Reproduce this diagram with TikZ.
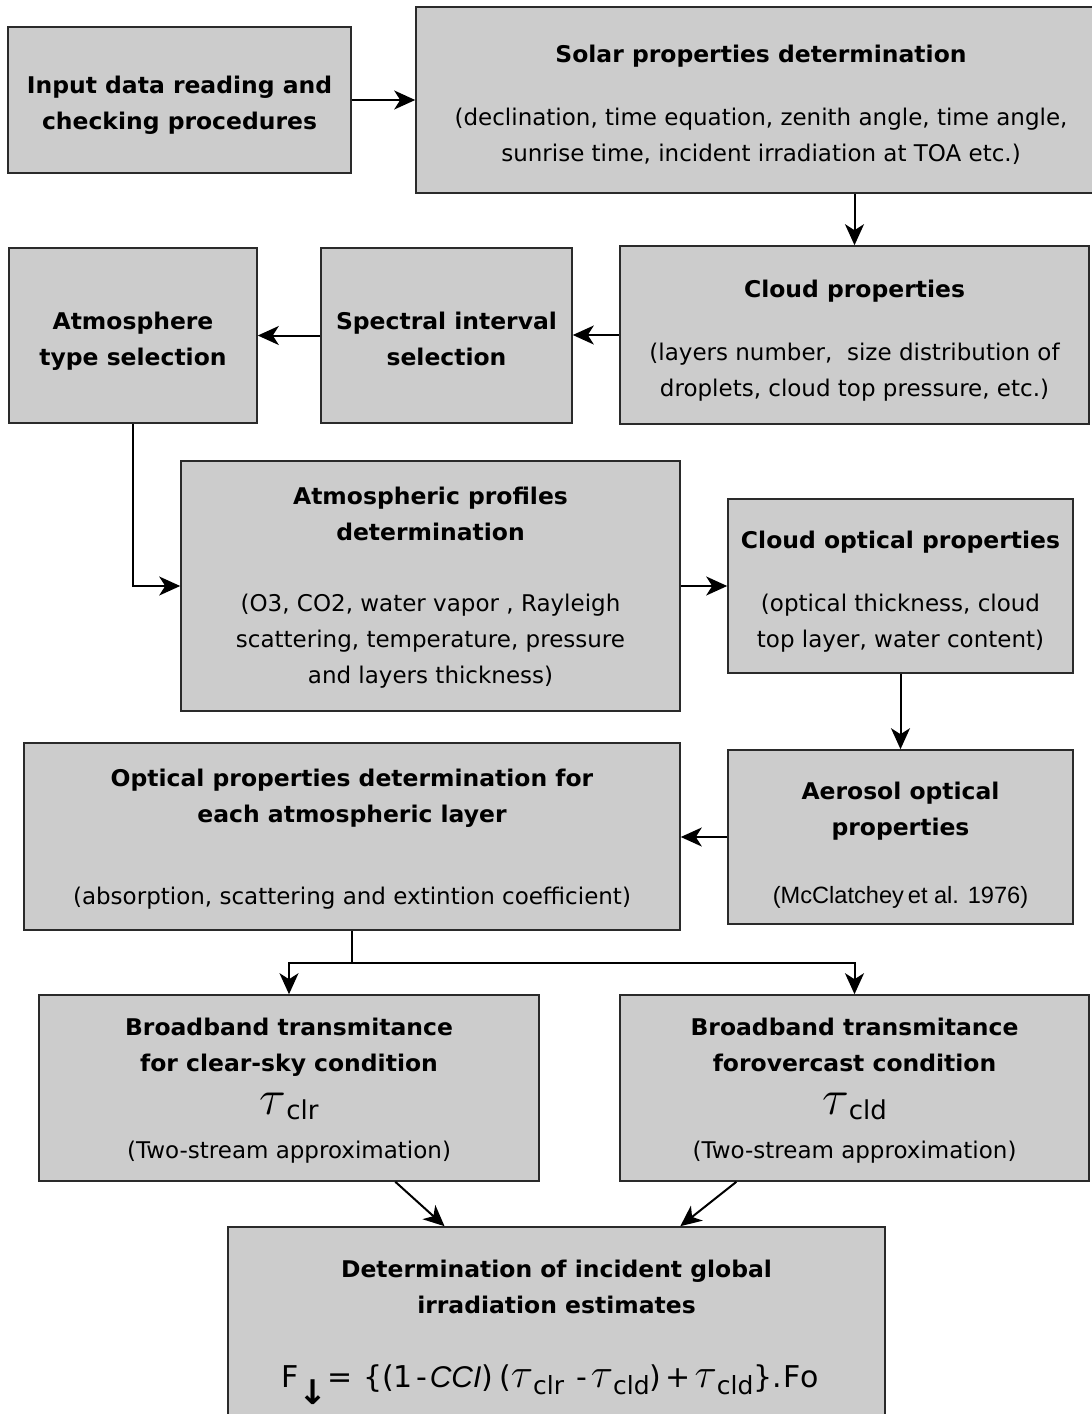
\documentclass[tikz,border=0pt]{standalone}
\usepackage{fontspec}
\setmainfont{DejaVu Sans}[BoldFeatures={FakeStretch=1.02}]
\newfontfamily\arialfont{Liberation Sans}
\usepackage{tikz}
\usetikzlibrary{arrows.meta,positioning,calc}
\definecolor{boxfill}{HTML}{CCCCCC}
\definecolor{boxline}{HTML}{2A2A2A}
\newcommand{\tstrut}[1][14pt]{\rule{0pt}{#1}}
\newcommand{\taubig}[1]{{\fontsize{25}{25}\selectfont$\tau$}\raisebox{-2.5pt}{\fontsize{13}{13}\selectfont #1}}
\newcommand{\taueq}[1]{{\fontsize{22}{22}\selectfont$\tau$}\raisebox{-3.5pt}{\fontsize{12.5}{12.5}\selectfont #1}}

\begin{document}
\begin{tikzpicture}[x=0.5pt,y=-0.5pt,
  font=\fontsize{11.5}{18}\selectfont,
  box/.style={draw=boxline,fill=boxfill,line width=0.8pt,align=center,inner sep=0pt},
  arr/.style={-{Stealth[length=10.5pt,width=9.5pt,inset=3pt]},line width=1pt}]
\clip (0,0) rectangle (1092,1414);
% first row
\node[box,minimum width=171.5pt,minimum height=73pt] (inp) at (179.5,100)
  {\tstrut\textbf{Input data reading and}\\\textbf{checking procedures}};
\node[box,minimum width=345pt,minimum height=93pt] (solar) at (761,100)
  {\tstrut\textbf{Solar properties determination}\\[13.5pt]
   (declination, time equation, zenith angle, time angle,\\
   sunrise time, incident irradiation at TOA etc.)};
% second row
\node[box,minimum width=234.5pt,minimum height=89pt] (cloud) at (854.5,335)
  {\tstrut[14.7pt]\textbf{Cloud properties}\\[13.5pt]
   (layers number,\ \ size distribution of\\droplets, cloud top pressure, etc.)};
\node[box,minimum width=125.5pt,minimum height=87.5pt] (spec) at (446.5,335.5)
  {\tstrut[12pt]\textbf{Spectral interval}\\\textbf{selection}};
\node[box,minimum width=124pt,minimum height=87.5pt] (atm) at (133,335.5)
  {\tstrut[14.5pt]\textbf{Atmosphere}\\\textbf{type selection}};
% third row
\node[box,minimum width=249.5pt,minimum height=125pt] (prof) at (430.5,586)
  {\tstrut[10.7pt]\textbf{Atmospheric profiles}\\\textbf{determination}\\[17.5pt]
   (O3, CO2, water vapor , Rayleigh\\scattering, temperature, pressure\\and layers thickness)};
\node[box,minimum width=172.5pt,minimum height=87pt] (cop) at (900.5,586)
  {\tstrut[14.7pt]\textbf{Cloud optical properties}\\[13.5pt]
   (optical thickness, cloud\\top layer, water content)};
% fourth row
\node[box,minimum width=172.5pt,minimum height=87pt] (aer) at (900.5,837)
  {\tstrut[17pt]\textbf{Aerosol optical}\\\textbf{properties}\\[16pt]
   {\arialfont\fontsize{11.8}{11.8}\selectfont (McClatchey\,et al. 1976)}};
\node[box,minimum width=328pt,minimum height=93.5pt] (opt) at (352,836.5)
  {\tstrut[11.7pt]\textbf{Optical properties determination for}\\\textbf{each atmospheric layer}\\[23pt]
   (absorption, scattering and extintion coefficient)};
% fifth row
\node[box,minimum width=250pt,minimum height=93pt] (clr) at (289,1088)
  {\tstrut[11.7pt]\textbf{Broadband transmitance}\\\textbf{for clear-sky condition}\\[3.5pt]
   \taubig{clr}\\[4pt]
   (Two-stream approximation)};
\node[box,minimum width=234.5pt,minimum height=93pt] (ovc) at (854.5,1088)
  {\tstrut[11.7pt]\textbf{Broadband transmitance}\\\textbf{forovercast condition}\\[3.5pt]
   \taubig{cld}\\[4pt]
   (Two-stream approximation)};
% last row
\node[box,minimum width=328.5pt,minimum height=106.5pt] (det) at (556.5,1333.5) {};
\node[align=center,anchor=north] (dettitle) at ($(det.north)+(0,27)$)
  {\textbf{Determination of incident global}\\\textbf{irradiation estimates}};
\node[anchor=base west,inner sep=0pt] (formula) at ($(det.north west)+(54,161)$)
  {\fontsize{15}{15}\selectfont F\raisebox{-8.5pt}{\fontsize{17}{17}\selectfont\bfseries ↓}=\hspace{5pt}%
   \{(1\hspace{2pt}-\hspace{1pt}{\arialfont\itshape CCI})\hspace{3pt}(\taueq{clr}\hspace{6pt}-\hspace{2pt}\taueq{cld})\hspace{2pt}+\hspace{2pt}\taueq{cld}\}.\hspace{1pt}Fo};
% connectors
\draw[arr] (inp) -- (inp -| solar.west);
\draw[arr] (cloud.north |- solar.south) -- (cloud.north);
\draw[arr] (cloud.west) -- (cloud.west -| spec.east);
\draw[arr] (spec.west) -- (spec.west -| atm.east);
\draw[arr] (atm.south) |- (prof.west);
\draw[arr] (prof.east) -- (cop.west);
\draw[arr] (cop.south) -- (aer.north);
\draw[arr] (aer.west) -- (aer.west -| opt.east);
\coordinate (split) at ($(opt.south)+(0,32)$);
\draw[line width=1pt] (opt.south) -- (split);
\draw[arr] (split) -| (clr.north);
\draw[arr] (split) -| (ovc.north);
\draw[arr] ($(clr.south west)!0.712!(clr.south east)$) -- ($(det.north west)!0.33!(det.north east)$);
\draw[arr] ($(ovc.south west)!0.249!(ovc.south east)$) -- ($(det.north west)!0.688!(det.north east)$);
\end{tikzpicture}
\end{document}
